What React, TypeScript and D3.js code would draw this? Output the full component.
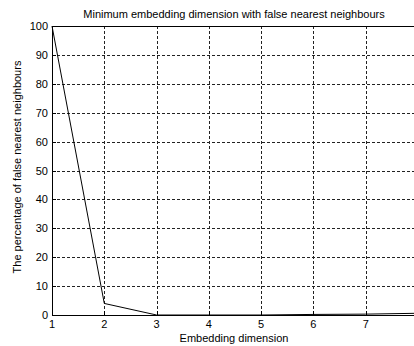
import React from "react";
import * as d3 from "d3";

const dims = [1, 2, 3, 4, 5, 6, 7, 8];
const fnnPercent = [100, 4, 0, 0, 0, 0.2, 0.3, 0.6];
const xTicks = [1, 2, 3, 4, 5, 6, 7];
const yTicks = [0, 10, 20, 30, 40, 50, 60, 70, 80, 90, 100];

const W = 414;
const H = 346;
const left = 52;
const right = 418;
const top = 26;
const bottom = 315;
const font = "'Liberation Sans', Arial, Helvetica, sans-serif";

export default function App() {
  const x = d3.scaleLinear().domain([1, 8]).range([left, right]);
  const y = d3.scaleLinear().domain([0, 100]).range([bottom, top]);
  const line = d3
    .line<number>()
    .x((_, i) => x(dims[i]))
    .y((d) => y(d));

  return (
    <svg
      width={W}
      height={H}
      style={{ position: "absolute", left: 0, top: 0, background: "#fff" }}
      fontFamily={font}
    >
      <rect x={0} y={0} width={W} height={H} fill="#fff" />
      {xTicks.slice(1).map((t) => (
        <line
          key={"gx" + t}
          x1={Math.round(x(t)) + 0.5}
          x2={Math.round(x(t)) + 0.5}
          y1={top}
          y2={bottom}
          stroke="#222"
          strokeWidth={1}
          strokeDasharray="3,2"
        />
      ))}
      {yTicks.slice(1, -1).map((t) => (
        <line
          key={"gy" + t}
          x1={left}
          x2={right}
          y1={Math.round(y(t)) + 0.5}
          y2={Math.round(y(t)) + 0.5}
          stroke="#222"
          strokeWidth={1}
          strokeDasharray="3,2"
        />
      ))}
      {xTicks.map((t) => (
        <line
          key={"tx" + t}
          x1={Math.round(x(t)) + 0.5}
          x2={Math.round(x(t)) + 0.5}
          y1={bottom}
          y2={bottom - 4}
          stroke="#000"
        />
      ))}
      {yTicks.map((t) => (
        <line
          key={"ty" + t}
          x1={left}
          x2={left + 4}
          y1={Math.round(y(t)) + 0.5}
          y2={Math.round(y(t)) + 0.5}
          stroke="#000"
        />
      ))}
      <line x1={left + 0.5} x2={left + 0.5} y1={top} y2={bottom + 1} stroke="#000" />
      <line x1={left} x2={right} y1={top + 0.5} y2={top + 0.5} stroke="#000" />
      <line x1={left} x2={right} y1={bottom + 0.5} y2={bottom + 0.5} stroke="#000" />
      <path d={line(fnnPercent) || ""} fill="none" stroke="#000" strokeWidth={1} />
      {xTicks.map((t) => (
        <text key={"lx" + t} x={x(t)} y={328} fontSize={11} textAnchor="middle" fill="#000">
          {t}
        </text>
      ))}
      {yTicks.map((t) => (
        <text
          key={"ly" + t}
          x={48}
          y={y(t) + 4}
          fontSize={11}
          textAnchor="end"
          fill="#000"
        >
          {t}
        </text>
      ))}
      <text x={234} y={18} fontSize={11} textAnchor="middle" fill="#000">
        Minimum embedding dimension with false nearest neighbours
      </text>
      <text x={234} y={342} fontSize={11} textAnchor="middle" fill="#000">
        Embedding dimension
      </text>
      <text
        transform={`translate(21,167) rotate(-90)`}
        fontSize={11}
        textAnchor="middle"
        fill="#000"
      >
        The percentage of false nearest neighbours
      </text>
    </svg>
  );
}
